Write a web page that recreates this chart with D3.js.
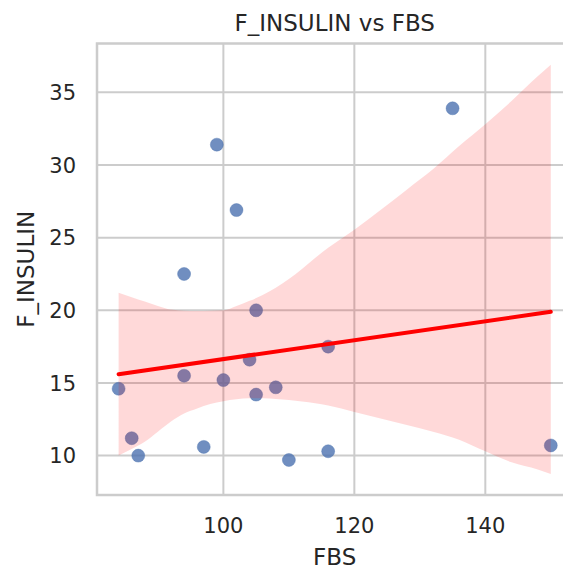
<!DOCTYPE html>
<html>
<head>
<meta charset="utf-8">
<script src="https://cdn.jsdelivr.net/npm/d3@7"></script>
<style>
html,body{margin:0;padding:0;background:#fff;}
svg{display:block;font-family:"DejaVu Sans",sans-serif;}
</style>
</head>
<body>
<svg id="chart" width="563" height="571"></svg>
<script>
// ---- data ----
const fbs     = [84, 86, 87, 94, 94, 97, 99, 100, 102, 104, 105, 105, 108, 110, 116, 116, 135, 150];
const insulin = [14.6, 11.2, 10.0, 15.5, 22.5, 10.6, 31.4, 15.2, 26.9, 16.6, 20.0, 14.2, 14.7, 9.7, 10.3, 17.5, 33.9, 10.7];

const fitX = [84, 150];
const fitY = [15.6, 19.9];

const bandX     = [84, 86, 88, 90, 92, 94, 96, 98, 100, 102, 104, 106, 108, 110, 112, 114, 116, 120, 124, 128, 132, 136, 140, 144, 148, 150];
const bandLower = [10.0, 10.45, 10.95, 11.65, 12.35, 12.9, 13.25, 13.55, 13.75, 13.88, 13.94, 13.95, 13.9, 13.82, 13.72, 13.6, 13.45, 13.0, 12.55, 12.1, 11.65, 11.1, 10.3, 9.55, 9.05, 8.73];
const bandUpper = [21.2, 20.9, 20.6, 20.3, 20.05, 19.97, 19.95, 19.97, 20.0, 20.3, 20.65, 21.05, 21.55, 22.15, 22.85, 23.6, 24.3, 25.55, 26.9, 28.3, 29.7, 31.3, 32.8, 34.4, 36.1, 36.9];

const xTicks = [100, 120, 140];
const yTicks = [10, 15, 20, 25, 30, 35];
const xDomain = [80.7, 153.3];
const yDomain = [7.29, 38.36];

const titleText = "F_INSULIN vs FBS";
const xLabel = "FBS";
const yLabel = "F_INSULIN";

// ---- layout ----
const pL = 97, pR = 572.4, pT = 43.5, pB = 495;
const svg = d3.select("#chart");
const x = d3.scaleLinear().domain(xDomain).range([pL, pR]);
const y = d3.scaleLinear().domain(yDomain).range([pB, pT]);
const textColor = "#262626";
const gridColor = "#cccccc";

// grid
const grid = svg.append("g");
grid.selectAll("line.gx").data(xTicks).join("line")
  .attr("x1", d => x(d)).attr("x2", d => x(d))
  .attr("y1", pT).attr("y2", pB)
  .attr("stroke", gridColor).attr("stroke-width", 2);
grid.selectAll("line.gy").data(yTicks).join("line")
  .attr("y1", d => y(d)).attr("y2", d => y(d))
  .attr("x1", pL).attr("x2", pR)
  .attr("stroke", gridColor).attr("stroke-width", 2);

// points
const pts = fbs.map((v, i) => ({x: v, y: insulin[i]}));
svg.append("g").selectAll("circle").data(pts).join("circle")
  .attr("cx", d => x(d.x)).attr("cy", d => y(d.y)).attr("r", 6.5)
  .attr("fill", "#4c72b0").attr("fill-opacity", 0.8)
  .attr("stroke", "#4c72b0").attr("stroke-opacity", 0.5).attr("stroke-width", 0.8);

// CI band
const band = bandX.map((v, i) => ({x: v, lo: bandLower[i], hi: bandUpper[i]}));
svg.append("path").datum(band)
  .attr("d", d3.area().curve(d3.curveMonotoneX).x(d => x(d.x)).y0(d => y(d.lo)).y1(d => y(d.hi)))
  .attr("fill", "red").attr("fill-opacity", 0.15);

// fit line
const fit = fitX.map((v, i) => ({x: v, y: fitY[i]}));
svg.append("path").datum(fit)
  .attr("d", d3.line().x(d => x(d.x)).y(d => y(d.y)))
  .attr("fill", "none").attr("stroke", "red").attr("stroke-width", 4)
  .attr("stroke-linecap", "round");

// spines
svg.append("rect").attr("x", pL).attr("y", pT)
  .attr("width", pR - pL).attr("height", pB - pT)
  .attr("fill", "none").attr("stroke", gridColor).attr("stroke-width", 2.5);

// tick labels
svg.append("g").selectAll("text").data(xTicks).join("text")
  .attr("x", d => x(d)).attr("y", 533)
  .attr("text-anchor", "middle").attr("font-size", 21).attr("fill", textColor)
  .text(d => d);
svg.append("g").selectAll("text").data(yTicks).join("text")
  .attr("x", 76).attr("y", d => y(d)).attr("dy", "0.36em")
  .attr("text-anchor", "end").attr("font-size", 21).attr("fill", textColor)
  .text(d => d);

// labels
svg.append("text").attr("x", (pL + pR) / 2).attr("y", 565)
  .attr("text-anchor", "middle").attr("font-size", 23).attr("fill", textColor)
  .text(xLabel);
svg.append("text").attr("transform", `translate(34,${(pT + pB) / 2}) rotate(-90)`)
  .attr("text-anchor", "middle").attr("font-size", 23).attr("fill", textColor)
  .text(yLabel);
svg.append("text").attr("x", (pL + pR) / 2).attr("y", 31)
  .attr("text-anchor", "middle").attr("font-size", 23).attr("fill", textColor)
  .text(titleText);
</script>
</body>
</html>
